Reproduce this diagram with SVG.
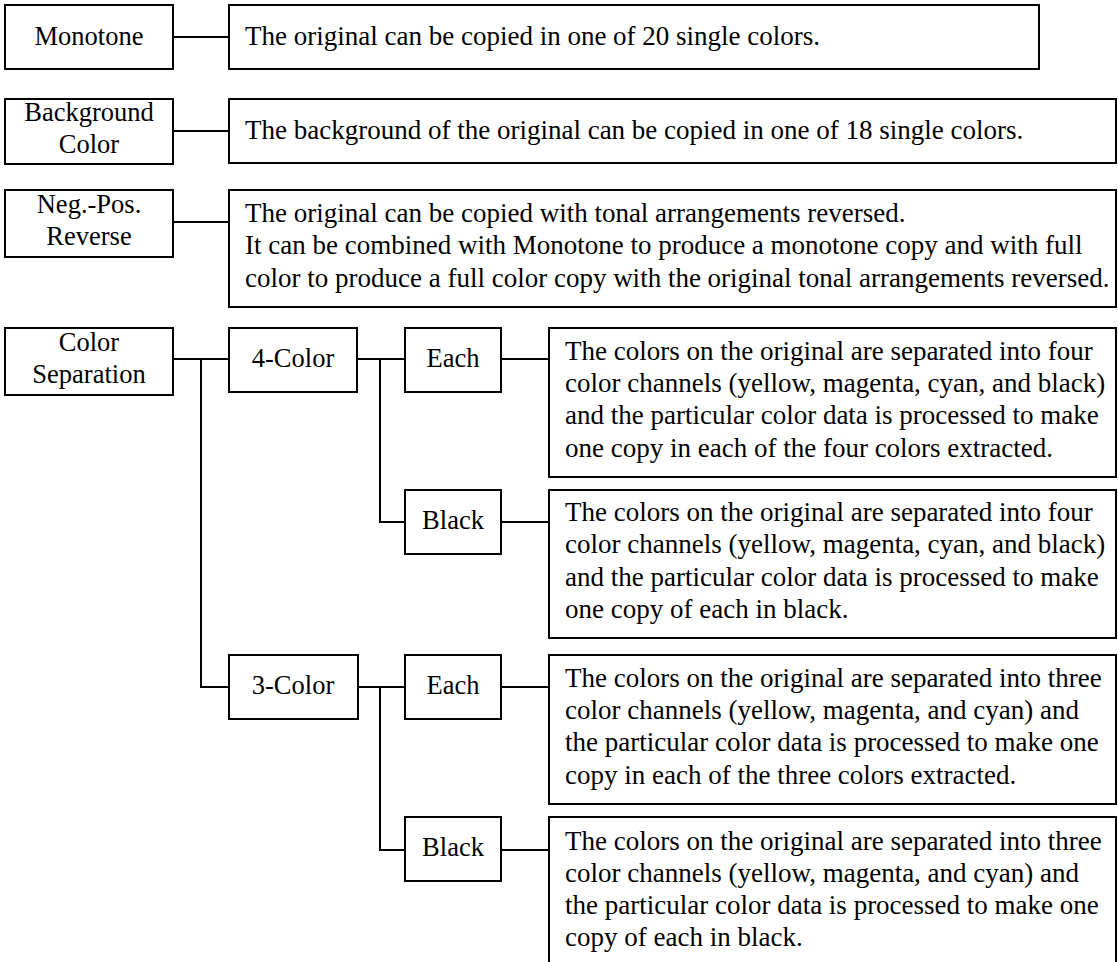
<svg xmlns="http://www.w3.org/2000/svg" width="1118" height="962" viewBox="0 0 1118 962">
<style>
rect{fill:#fff;stroke:#000;stroke-width:2}
text{font-family:"Liberation Serif","Times New Roman",serif;font-size:27px;fill:#000}
.c{text-anchor:middle;font-size:26.5px}
#connectors line{stroke:#000;stroke-width:2;fill:none}
#connectors path{stroke:#000;stroke-width:2;fill:none}
</style>
<rect x="0" y="0" width="1118" height="962" style="stroke:none;fill:#fff"/>
<g id="connectors">
<line x1="173" y1="37" x2="229" y2="37"/>
<line x1="173" y1="131" x2="229" y2="131"/>
<line x1="173" y1="222" x2="229" y2="222"/>
<line x1="173" y1="359" x2="229" y2="359"/>
<path d="M201 359 V687 H229"/>
<line x1="357" y1="359" x2="405" y2="359"/>
<path d="M380 359 V522 H405"/>
<line x1="501" y1="359" x2="549" y2="359"/>
<line x1="501" y1="522" x2="549" y2="522"/>
<line x1="358" y1="687" x2="405" y2="687"/>
<path d="M380 687 V850 H405"/>
<line x1="501" y1="687" x2="549" y2="687"/>
<line x1="501" y1="850" x2="549" y2="850"/>
</g>
<g id="monotone"><rect x="5" y="5" width="168" height="64"/><text class="c" x="89" y="45">Monotone</text></g>
<g id="monotone-desc"><rect x="229" y="5" width="810" height="64"/><text x="245" y="45">The original can be copied in one of 20 single colors.</text></g>
<g id="background"><rect x="5" y="99" width="168" height="65"/><text class="c" x="89" y="121">Background</text><text class="c" x="89" y="153">Color</text></g>
<g id="background-desc"><rect x="229" y="99" width="887" height="64"/><text x="245" y="139">The background of the original can be copied in one of 18 single colors.</text></g>
<g id="negpos"><rect x="5" y="190" width="168" height="67"/><text class="c" x="89" y="213">Neg.-Pos.</text><text class="c" x="89" y="245">Reverse</text></g>
<g id="negpos-desc"><rect x="229" y="190" width="887" height="117"/><text x="245" y="222">The original can be copied with tonal arrangements reversed.</text><text x="245" y="254">It can be combined with Monotone to produce a monotone copy and with full</text><text x="245" y="287">color to produce a full color copy with the original tonal arrangements reversed.</text></g>
<g id="colorsep"><rect x="5" y="328" width="168" height="67"/><text class="c" x="89" y="351">Color</text><text class="c" x="89" y="383">Separation</text></g>
<g id="four-color"><rect x="229" y="328" width="128" height="64"/><text class="c" x="293" y="367">4-Color</text></g>
<g id="four-each"><rect x="405" y="328" width="96" height="64"/><text class="c" x="453" y="367">Each</text></g>
<g id="four-each-desc"><rect x="549" y="328" width="567" height="149"/><text x="565" y="360">The colors on the original are separated into four</text><text x="565" y="392">color channels (yellow, magenta, cyan, and black)</text><text x="565" y="424">and the particular color data is processed to make</text><text x="565" y="457">one copy in each of the four colors extracted.</text></g>
<g id="four-black"><rect x="405" y="490" width="96" height="64"/><text class="c" x="453" y="529">Black</text></g>
<g id="four-black-desc"><rect x="549" y="490" width="567" height="148"/><text x="565" y="521">The colors on the original are separated into four</text><text x="565" y="553">color channels (yellow, magenta, cyan, and black)</text><text x="565" y="586">and the particular color data is processed to make</text><text x="565" y="618">one copy of each in black.</text></g>
<g id="three-color"><rect x="229" y="655" width="129" height="64"/><text class="c" x="293" y="694">3-Color</text></g>
<g id="three-each"><rect x="405" y="655" width="96" height="64"/><text class="c" x="453" y="694">Each</text></g>
<g id="three-each-desc"><rect x="549" y="655" width="567" height="149"/><text x="565" y="687">The colors on the original are separated into three</text><text x="565" y="719">color channels (yellow, magenta, and cyan) and</text><text x="565" y="751">the particular color data is processed to make one</text><text x="565" y="784">copy in each of the three colors extracted.</text></g>
<g id="three-black"><rect x="405" y="817" width="96" height="64"/><text class="c" x="453" y="856">Black</text></g>
<g id="three-black-desc"><rect x="549" y="817" width="567" height="160"/><text x="565" y="850">The colors on the original are separated into three</text><text x="565" y="882">color channels (yellow, magenta, and cyan) and</text><text x="565" y="914">the particular color data is processed to make one</text><text x="565" y="946">copy of each in black.</text></g>
</svg>
